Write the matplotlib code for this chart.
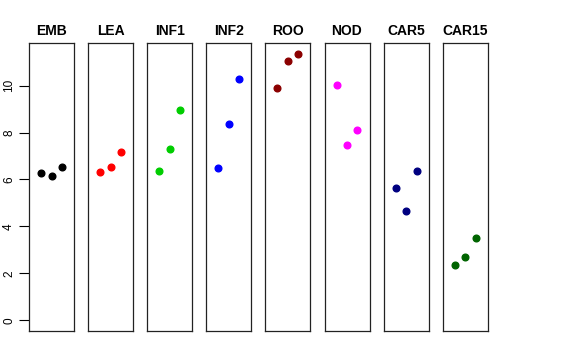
import matplotlib
matplotlib.use("Agg")
import matplotlib.pyplot as plt

plt.rcParams['font.family'] = ['Liberation Sans', 'DejaVu Sans']

# tissues and their three values each
tissues = ["EMB", "LEA", "INF1", "INF2", "ROO", "NOD", "CAR5", "CAR15"]
x_pos = [1, 2, 3]
emb = [6.27, 6.14, 6.52]
lea = [6.31, 6.55, 7.17]
inf1 = [6.36, 7.30, 8.96]
inf2 = [6.50, 8.37, 10.30]
roo = [9.90, 11.04, 11.36]
nod = [10.02, 7.47, 8.11]
car5 = [5.65, 4.67, 6.36]
car15 = [2.36, 2.69, 3.51]
values = [emb, lea, inf1, inf2, roo, nod, car5, car15]
colors = ["black", "red", "#00CD00", "blue", "#8B0000", "magenta", "#000080", "#006400"]

W, H = 576, 360
fig = plt.figure(figsize=(W / 100, H / 100), dpi=100)

ymax = max(max(v) for v in values)
pad = 0.04 * ymax
for i, (name, vals, col) in enumerate(zip(tissues, values, colors)):
    left = 29 + i * 59.1
    ax = fig.add_axes([left / W, 1 - 331 / H, 45 / W, 288 / H])
    ax.plot(x_pos, vals, 'o', color=col, markersize=4.8, linestyle='none')
    ax.set_xlim(-0.16, 4.16)
    ax.set_ylim(0 - pad, ymax + pad)
    ax.set_xticks([])
    for s in ax.spines.values():
        s.set_linewidth(0.9)
        s.set_color("#222222")
    ax.set_title(name, fontsize=10, fontweight='bold', pad=6)
    if i == 0:
        ax.set_yticks([0, 2, 4, 6, 8, 10])
        ax.tick_params(axis='y', length=7, width=0.8, labelsize=8.5, pad=3)
        for lab in ax.get_yticklabels():
            lab.set_rotation(90)
            lab.set_va('center')
    else:
        ax.set_yticks([])

fig.savefig("out.png", dpi=100)
